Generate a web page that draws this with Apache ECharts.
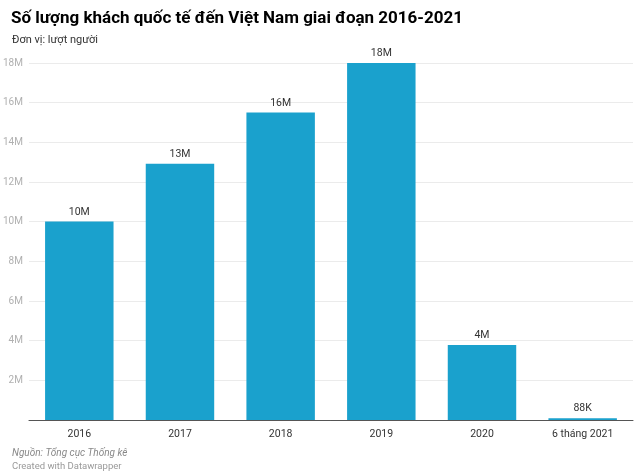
<!DOCTYPE html>
<html><head><meta charset="utf-8">
<script src="https://cdn.jsdelivr.net/npm/echarts@6/dist/echarts.min.js"></script>
<style>html,body{margin:0;padding:0;background:#fff}#c{width:640px;height:476px}</style>
</head><body><div id="c"></div>
<script>
var categories = ['2016','2017','2018','2019','2020','6 tháng 2021'];
var visitorsMillions = [10.01, 12.92, 15.5, 18.0, 3.78, 0.088];
var valueLabels = ['10M','13M','16M','18M','4M','88K'];
var yTicks = [0,2,4,6,8,10,12,14,16,18];

var chart = echarts.init(document.getElementById('c'), null, {renderer:'canvas'});
chart.setOption({
  backgroundColor:'#fff',
  animation:false,
  textStyle:{fontFamily:'Roboto'},
  title:[
    {text:'Số lượng khách quốc tế đến Việt Nam giai đoạn 2016-2021', left:6, top:5,
     textStyle:{fontFamily:'Roboto', fontSize:17, fontWeight:'bold', color:'#000'}},
    {text:'Đơn vị: lượt người', left:7, top:30,
     textStyle:{fontFamily:'Roboto', fontSize:11, fontWeight:'normal', color:'#333'}},
    {text:'Nguồn: Tổng cục Thống kê', left:7, top:443,
     textStyle:{fontFamily:'Roboto', fontSize:10, fontStyle:'italic', fontWeight:'normal', color:'#888'}},
    {text:'Created with Datawrapper', left:7, top:457,
     textStyle:{fontFamily:'Roboto', fontSize:9.5, fontWeight:'normal', color:'#999'}}
  ],
  grid:{left:28, right:7, top:63, bottom:56, containLabel:false},
  xAxis:{type:'category', data:categories,
    axisLine:{lineStyle:{color:'#555', width:1}},
    axisTick:{show:false},
    axisLabel:{color:'#333', fontSize:10.5, margin:9}},
  yAxis:{type:'value', min:yTicks[0], max:yTicks[yTicks.length-1], interval:2,
    axisLine:{show:false}, axisTick:{show:false},
    splitLine:{lineStyle:{color:'#ebebeb'}},
    axisLabel:{color:'#b0b0b0', fontSize:10, margin:6,
      formatter:function(v){return v===0?'':v+'M';}}},
  series:[{type:'bar', data:visitorsMillions, barCategoryGap:'32%',
    itemStyle:{color:'#1aa1cd'},
    label:{show:true, position:'top', distance:4, color:'#333', fontSize:10.5,
      formatter:function(p){return valueLabels[p.dataIndex];}}}]
});
</script></body></html>
